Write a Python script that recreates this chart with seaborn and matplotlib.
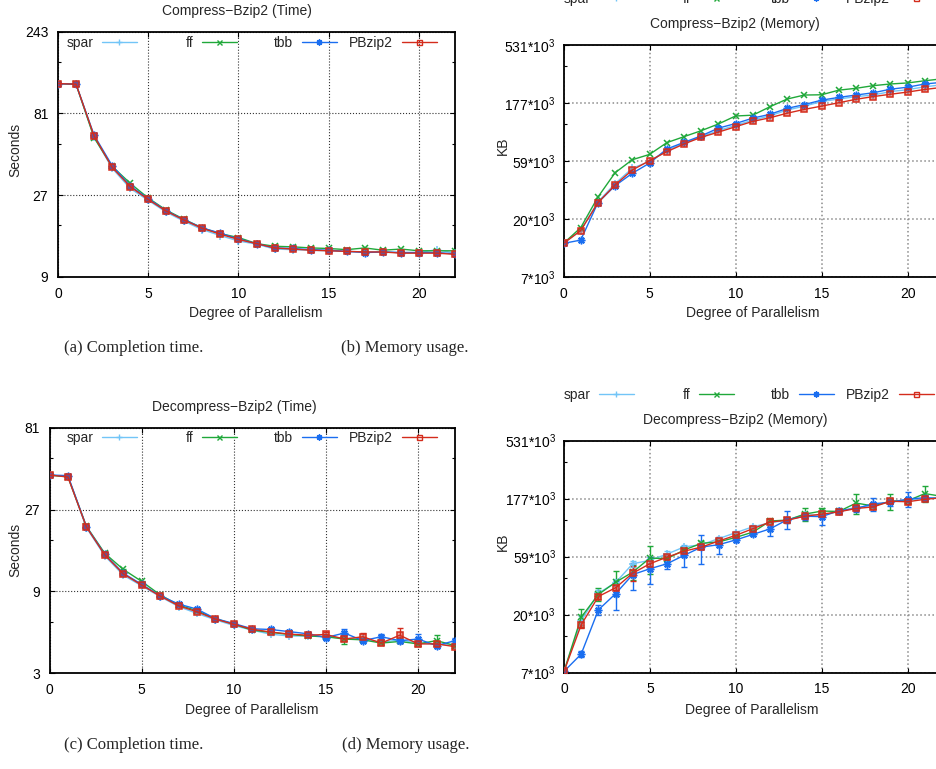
import numpy as np
import pandas as pd
import matplotlib
matplotlib.use('Agg')
import matplotlib.pyplot as plt
from matplotlib.lines import Line2D
from matplotlib.ticker import LogLocator, NullFormatter
import seaborn as sns

W, H = 936, 769

dop = list(range(23))
impls = ['spar', 'ff', 'tbb', 'PBzip2']

# (a) Compress-Bzip2, completion time (s)
comp_time = {
    'spar':   [121, 120, 59.0, 38.8, 29.6, 25.2, 21.5, 19.0, 17.0, 15.7, 14.6, 14.0, 13.1, 13.0, 12.9, 12.8, 12.7, 12.6, 12.6, 12.5, 12.5, 13.0, 12.4],
    'ff':     [121, 120, 58.5, 39.8, 31.7, 26.0, 22.1, 19.5, 17.4, 16.1, 15.3, 14.1, 13.6, 13.5, 13.3, 13.2, 13.0, 13.3, 12.9, 13.1, 12.8, 12.8, 12.8],
    'tbb':    [121, 120, 60.5, 40.2, 30.6, 25.8, 21.9, 19.4, 17.4, 16.2, 15.0, 14.1, 13.3, 13.2, 13.0, 12.9, 12.7, 12.5, 12.6, 12.5, 12.5, 12.5, 12.3],
    'PBzip2': [121, 120, 59.8, 39.3, 30.3, 25.5, 21.8, 19.3, 17.3, 16.0, 14.9, 14.1, 13.3, 13.1, 12.9, 12.8, 12.7, 12.6, 12.6, 12.4, 12.4, 12.4, 12.2],
}

# (b) Compress-Bzip2, memory (KB)
comp_mem = {
    'spar':   [12400, 15800, 27200, 38500, 51500, 58500, 72000, 82500, 93500, 105000, 116000, 128000, 139000, 155000, 167000, 182000, 191000, 200000, 206000, 220000, 228000, 241000, 250000],
    'ff':     [12400, 16700, 29800, 47300, 60500, 66900, 83500, 93600, 104800, 119000, 138500, 140600, 165000, 191000, 206000, 207000, 226000, 234000, 246000, 254000, 259000, 270000, 280000],
    'tbb':    [12400, 13200, 26800, 37000, 46800, 56700, 74100, 84000, 95000, 110000, 120000, 133000, 143000, 160000, 172000, 187000, 197000, 206000, 215000, 230000, 239000, 254000, 262000],
    'PBzip2': [12400, 15800, 26800, 37500, 49800, 59400, 70400, 81500, 92500, 102000, 113000, 125000, 134000, 146000, 157000, 167000, 178000, 190000, 200000, 209000, 218000, 229000, 238000],
}

# (c) Decompress-Bzip2, completion time (s)
decomp_time = {
    'spar':   [42.9, 42.0, 21.2, 14.5, 11.2, 9.7, 8.4, 7.35, 6.7, 6.15, 5.7, 5.35, 5.07, 4.95, 4.95, 4.9, 4.8, 4.75, 4.55, 4.7, 4.5, 4.45, 4.35],
    'ff':     [42.9, 41.9, 21.6, 15.0, 12.1, 10.3, 8.6, 7.5, 6.95, 6.25, 5.8, 5.35, 5.2, 5.05, 4.95, 4.9, 4.75, 4.7, 4.5, 4.6, 4.45, 4.65, 4.35],
    'tbb':    [42.9, 42.6, 21.5, 14.8, 11.5, 9.9, 8.5, 7.6, 7.1, 6.25, 5.85, 5.45, 5.4, 5.25, 5.1, 4.85, 5.15, 4.65, 4.9, 4.65, 4.75, 4.35, 4.65],
    'PBzip2': [42.9, 41.8, 21.4, 14.7, 11.4, 9.8, 8.46, 7.43, 6.85, 6.21, 5.79, 5.41, 5.22, 5.08, 5.0, 5.05, 4.75, 4.9, 4.5, 5.0, 4.45, 4.45, 4.29],
}
decomp_time_err = {
    'spar':   [0.3, 0.3, 0.2, 0.1, 0.08, 0.07, 0.06, 0.05, 0.05, 0.04, 0.04, 0.04, 0.05, 0.06, 0.06, 0.08, 0.1, 0.08, 0.06, 0.08, 0.08, 0.08, 0.06],
    'ff':     [0.3, 0.3, 0.2, 0.1, 0.1, 0.08, 0.06, 0.05, 0.05, 0.04, 0.04, 0.05, 0.05, 0.05, 0.05, 0.06, 0.3, 0.08, 0.06, 0.08, 0.1, 0.35, 0.06],
    'tbb':    [0.3, 0.3, 0.2, 0.1, 0.08, 0.07, 0.06, 0.08, 0.1, 0.05, 0.05, 0.05, 0.08, 0.08, 0.06, 0.1, 0.3, 0.08, 0.2, 0.12, 0.3, 0.12, 0.2],
    'PBzip2': [0.3, 0.3, 0.2, 0.1, 0.08, 0.07, 0.06, 0.05, 0.05, 0.04, 0.04, 0.04, 0.05, 0.08, 0.06, 0.15, 0.15, 0.25, 0.1, 0.5, 0.12, 0.12, 0.06],
}

# (d) Decompress-Bzip2, memory (KB)
decomp_mem = {
    'spar':   [6700, 17500, 29500, 36000, 51600, 55000, 62000, 71000, 74000, 83000, 93000, 104000, 112000, 118000, 131000, 129000, 140000, 150000, 155000, 168000, 172000, 178000, 182000],
    'ff':     [6700, 18700, 28800, 36300, 44000, 57400, 56800, 67000, 76000, 78000, 85000, 94000, 116000, 118000, 132000, 140000, 139000, 163000, 154000, 169000, 170000, 195000, 185000],
    'tbb':    [6700, 9300, 21500, 29200, 42000, 46900, 51600, 60600, 70700, 74000, 81000, 90000, 100000, 119000, 127000, 126000, 141000, 147000, 161000, 165000, 176000, 180000, 178000],
    'PBzip2': [6700, 16200, 27700, 32700, 43100, 51600, 58500, 65500, 70700, 79300, 88400, 100300, 113800, 117600, 127000, 132000, 138000, 147000, 151500, 168700, 167000, 175000, 180000],
}
decomp_mem_err = {
    'spar':   [200, 1500, 2000, 2500, 3000, 3000, 4000, 3000, 3000, 3000, 3000, 3000, 5000, 6000, 5000, 5000, 5000, 6000, 5000, 6000, 6000, 6000, 6000],
    'ff':     [200, 3200, 3500, 8400, 6000, 15000, 3000, 2500, 3000, 3000, 3000, 3000, 5000, 5000, 15000, 8000, 6000, 30000, 8000, 25000, 6000, 30000, 8000],
    'tbb':    [200, 500, 2000, 7700, 10500, 12000, 5000, 12000, 19000, 12000, 3000, 3000, 12000, 20000, 8000, 18000, 8000, 10000, 20000, 12000, 25000, 10000, 10000],
    'PBzip2': [200, 1000, 1500, 1500, 6000, 4000, 2500, 3000, 3000, 3000, 3000, 6000, 8000, 5000, 6000, 5000, 6000, 6000, 6000, 6000, 6000, 6000, 6000],
}

xticks = [0, 5, 10, 15, 20]
time_a_ticks = [9, 27, 81, 243]
time_c_ticks = [3, 9, 27, 81]
mem_ticks = [6561, 19683, 59049, 177147, 531441]
mem_labels = ['7*10$^3$', '20*10$^3$', '59*10$^3$', '177*10$^3$', '531*10$^3$']

colors = {'spar': '#72c5f7', 'ff': '#20a83a', 'tbb': '#1a6ef0', 'PBzip2': '#d42c1c'}
marker_map = {'spar': '+', 'ff': 'x', 'tbb': (8, 2, 0), 'PBzip2': 's'}
msize = {'spar': 6, 'ff': 4.5, 'tbb': 5.5, 'PBzip2': 4.5}

sns.set_theme(style='ticks')
plt.rcParams['font.family'] = ['Liberation Sans', 'DejaVu Sans']
plt.rcParams['mathtext.default'] = 'regular'
plt.rcParams['axes.unicode_minus'] = True


def fx(x):
    return x / W


def fy(y):
    return 1 - y / H


fig = plt.figure(figsize=(W / 100, H / 100), dpi=100)


def draw_panel(rect, series, errs, ylim, yticks, ylabels, title, title_xy,
               xlabel_xy, ylabel, ylabel_xy, legend_y, legend_ends,
               grid_color, grid_lw, xpad, ypad):
    l, t, r, b = rect
    ax = fig.add_axes([fx(l), fy(b), (r - l) / W, (b - t) / H])
    df = pd.DataFrame({
        'dop': dop * len(impls),
        'value': sum((series[k] for k in impls), []),
        'impl': np.repeat(impls, len(dop)),
    })
    sns.lineplot(data=df, x='dop', y='value', hue='impl',
                 hue_order=impls, palette=colors, lw=1.0, ax=ax, legend=False)
    for line, k in zip(list(ax.lines)[:4], impls):
        c = colors[k]
        line.set_marker(marker_map[k])
        line.set_markeredgecolor(c)
        line.set_markersize(msize[k])
        line.set_markeredgewidth(1.1)
        if k == 'PBzip2':
            line.set_markerfacecolor(matplotlib.colors.to_rgba(c, 0.45))
        else:
            line.set_markerfacecolor(c)
        line.set_zorder(3)
    if errs is not None:
        for k in impls:
            ax.errorbar(dop, series[k], yerr=errs[k], fmt='none', ecolor=colors[k],
                        elinewidth=1.0, capsize=2.2, capthick=1.0, zorder=2.5)

    ax.set_yscale('log', base=3)
    ax.set_xlim(0, 22)
    ax.set_ylim(*ylim)
    ax.set_xticks(xticks)
    ax.set_yticks(yticks, ylabels)
    ax.yaxis.set_minor_locator(LogLocator(base=3, subs=[2.0]))
    ax.yaxis.set_minor_formatter(NullFormatter())
    ax.tick_params(which='both', direction='in', top=True, right=True,
                   labelsize=10, colors='black', width=0.8)
    ax.tick_params(which='major', length=3.8)
    ax.tick_params(which='minor', length=2.0)
    ax.tick_params(axis='x', pad=xpad)
    ax.tick_params(axis='y', pad=ypad)
    ax.grid(True, which='major', ls=':', lw=grid_lw, color=grid_color)
    for sp in ax.spines.values():
        sp.set_linewidth(1.3)
        sp.set_color('black')

    ax.set_xlabel('Degree of Parallelism', fontsize=10, va='center', ha='center')
    ax.xaxis.set_label_coords(fx(xlabel_xy[0]), fy(xlabel_xy[1]), transform=fig.transFigure)
    ax.set_ylabel(ylabel, fontsize=10, va='center', ha='center')
    ax.yaxis.set_label_coords(fx(ylabel_xy[0]), fy(ylabel_xy[1]), transform=fig.transFigure)
    fig.text(fx(title_xy[0]), fy(title_xy[1]), title, fontsize=10, ha='center', va='center')

    for k, xe in zip(impls, legend_ends):
        h = Line2D([], [], color=colors[k], lw=1.0, marker=marker_map[k],
                   markersize=msize[k] * 0.8, markeredgewidth=1.0,
                   markerfacecolor='none' if k == 'PBzip2' else colors[k])
        fig.legend(handles=[h], labels=[k], loc='center right',
                   bbox_to_anchor=(fx(xe), fy(legend_y)), frameon=False,
                   markerfirst=False, handlelength=2.55, handletextpad=0.6,
                   borderpad=0, borderaxespad=0, fontsize=10, numpoints=1)
    return ax


draw_panel((58, 31.7, 455, 277), comp_time, None, (9, 243), time_a_ticks,
           [str(v) for v in time_a_ticks], 'Compress\u2212Bzip2 (Time)', (237, 11),
           (256, 312.7), 'Seconds', (15, 150), 43, [137, 237, 337, 437],
           '#333333', 0.8, 7, 7)

# the top legend of this panel sits half outside the page, as in the original
draw_panel((563.5, 45, 942, 277), comp_mem, None, (6561, 531441), mem_ticks,
           mem_labels, 'Compress\u2212Bzip2 (Memory)', (735, 24),
           (752.5, 312.7), 'KB', (503, 146), -1.5, [634, 734, 834, 934],
           '#8a8a8a', 1.1, 7, 6)

draw_panel((49.5, 427.7, 455, 673.3), decomp_time, decomp_time_err, (3, 81), time_c_ticks,
           [str(v) for v in time_c_ticks], 'Decompress\u2212Bzip2 (Time)', (234, 406.7),
           (252, 710), 'Seconds', (15, 550), 438.3, [137, 237, 337, 437],
           '#333333', 0.8, 7, 7)

draw_panel((564, 440.7, 942, 672.5), decomp_mem, decomp_mem_err, (6561, 531441), mem_ticks,
           mem_labels, 'Decompress\u2212Bzip2 (Memory)', (735, 420),
           (752, 710), 'KB', (503, 542), 395, [634, 734, 834, 934],
           '#8a8a8a', 1.1, 7, 6)

captions = ['(a) Completion time.', '(b) Memory usage.', '(c) Completion time.', '(d) Memory usage.']
caption_xy = [(134, 348), (405, 348), (134, 745), (406, 745)]
for txt, (cx, cy) in zip(captions, caption_xy):
    fig.text(fx(cx), fy(cy), txt, fontsize=12, ha='center', va='center',
             family=['Liberation Serif', 'DejaVu Serif'])

fig.savefig('out.png', dpi=100)
plt.close(fig)
